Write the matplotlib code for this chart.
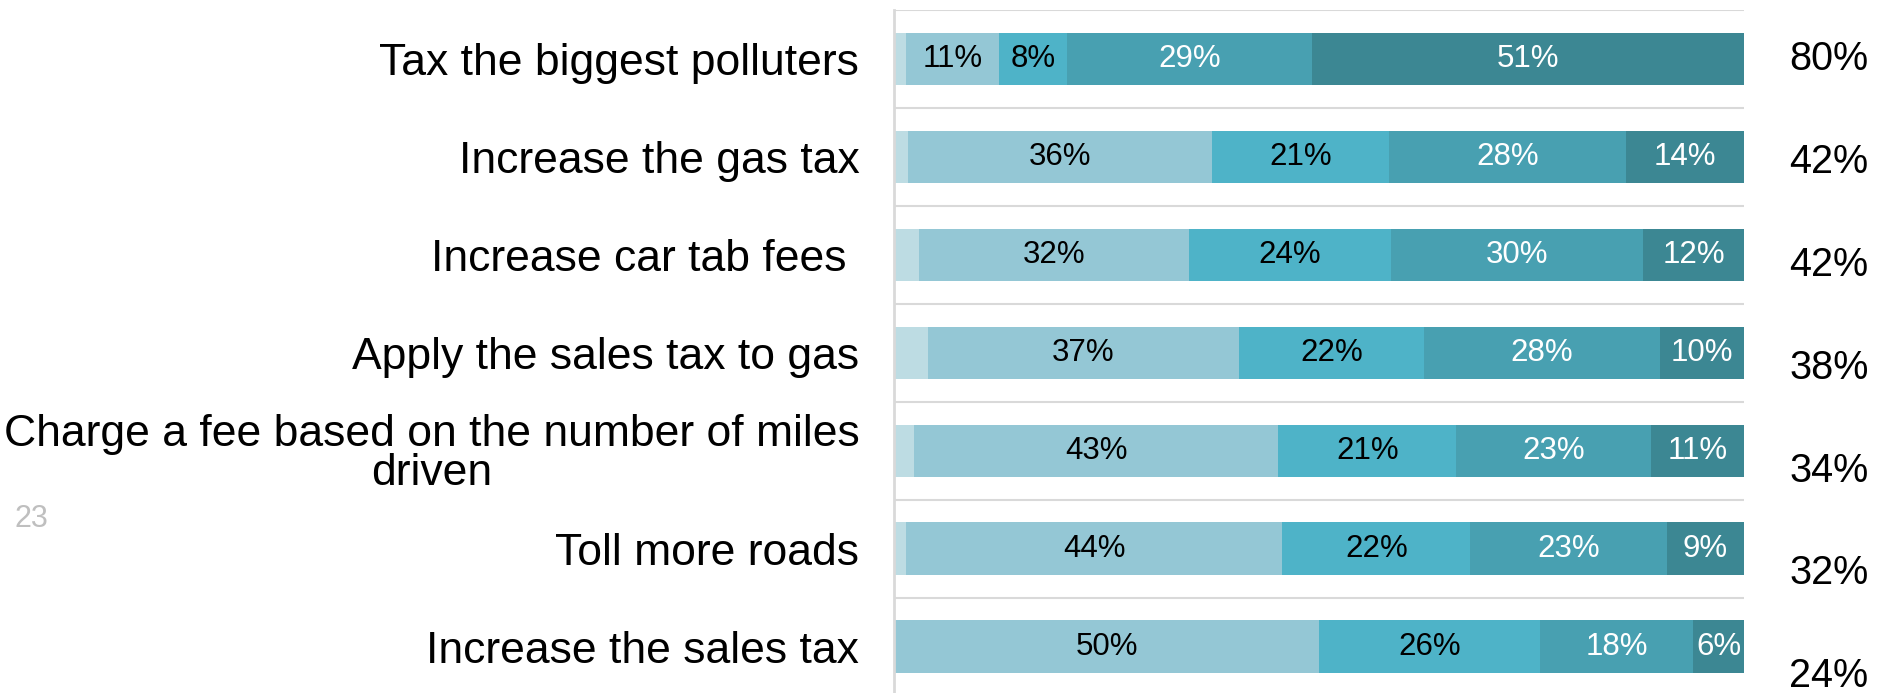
import matplotlib
matplotlib.use('Agg')
import matplotlib.pyplot as plt
import numpy as np

plt.rcParams['font.family'] = ['Liberation Sans', 'DejaVu Sans']

# survey items, top to bottom
items = [
    'Tax the biggest polluters',
    'Increase the gas tax',
    'Increase car tab fees ',
    'Apply the sales tax to gas',
    'Charge a fee based on the number of miles\ndriven',
    'Toll more roads',
    'Increase the sales tax',
]
# answer shares per item (first one is the small unlabeled part)
unsure = [1.4, 1.6, 3.0, 4.0, 2.4, 1.4, 0.0]
strongly_oppose = [11, 36, 32, 37, 43, 44, 50]
somewhat_oppose = [8, 21, 24, 22, 21, 22, 26]
somewhat_support = [29, 28, 30, 28, 23, 23, 18]
strongly_support = [51, 14, 12, 10, 11, 9, 6]
total_support = ['80%', '42%', '42%', '38%', '34%', '32%', '24%']

series = [unsure, strongly_oppose, somewhat_oppose, somewhat_support, strongly_support]
colors = ['#bddce3', '#94c7d5', '#4eb3c8', '#48a0b1', '#3c8793']
text_colors = [None, 'black', 'black', 'white', 'white']

data = np.array(series, dtype=float)
data = data / data.sum(axis=0) * 100  # 100% stacked

fig = plt.figure(figsize=(18.92, 6.93), dpi=100)
ax = fig.add_axes([894 / 1892, 0, 850 / 1892, 683 / 693])

y = np.arange(len(items))
left = np.zeros(len(items))
for k, vals in enumerate(data):
    bars = ax.barh(y, vals, left=left, height=0.54, color=colors[k], linewidth=0)
    if text_colors[k] is not None:
        for i, (b, v) in enumerate(zip(bars, series[k])):
            ax.text(left[i] + data[k][i] / 2, y[i], f'{v}%', ha='center', va='center',
                    fontsize=22.5, color=text_colors[k])
    left += vals

# separators between rows
ax.hlines(np.arange(-0.5, len(items)), 0, 100, color='#d9d9d9', lw=1.5, zorder=0)

ax.set_xlim(0, 100)
ax.set_ylim(6.47, -0.5)
ax.set_xticks([])
ax.set_yticks(y)
ax.set_yticklabels(items, fontsize=32)
for lab in ax.get_yticklabels():
    lab.set_multialignment('center')
    lab.set_linespacing(0.92)
ax.tick_params(axis='y', length=0, pad=25)
for s in ['top', 'right', 'bottom']:
    ax.spines[s].set_visible(False)
ax.spines['left'].set_color('#d9d9d9')
ax.spines['left'].set_linewidth(2)

for i, t in enumerate(total_support):
    ax.text(110, i * 1.05, t, ha='center', va='center', fontsize=28.5, clip_on=False)

fig.text(14 / 1892, 1 - 519 / 693, '23', fontsize=22, color='#bfbfbf', va='center')

fig.savefig('out.png', dpi=100)
